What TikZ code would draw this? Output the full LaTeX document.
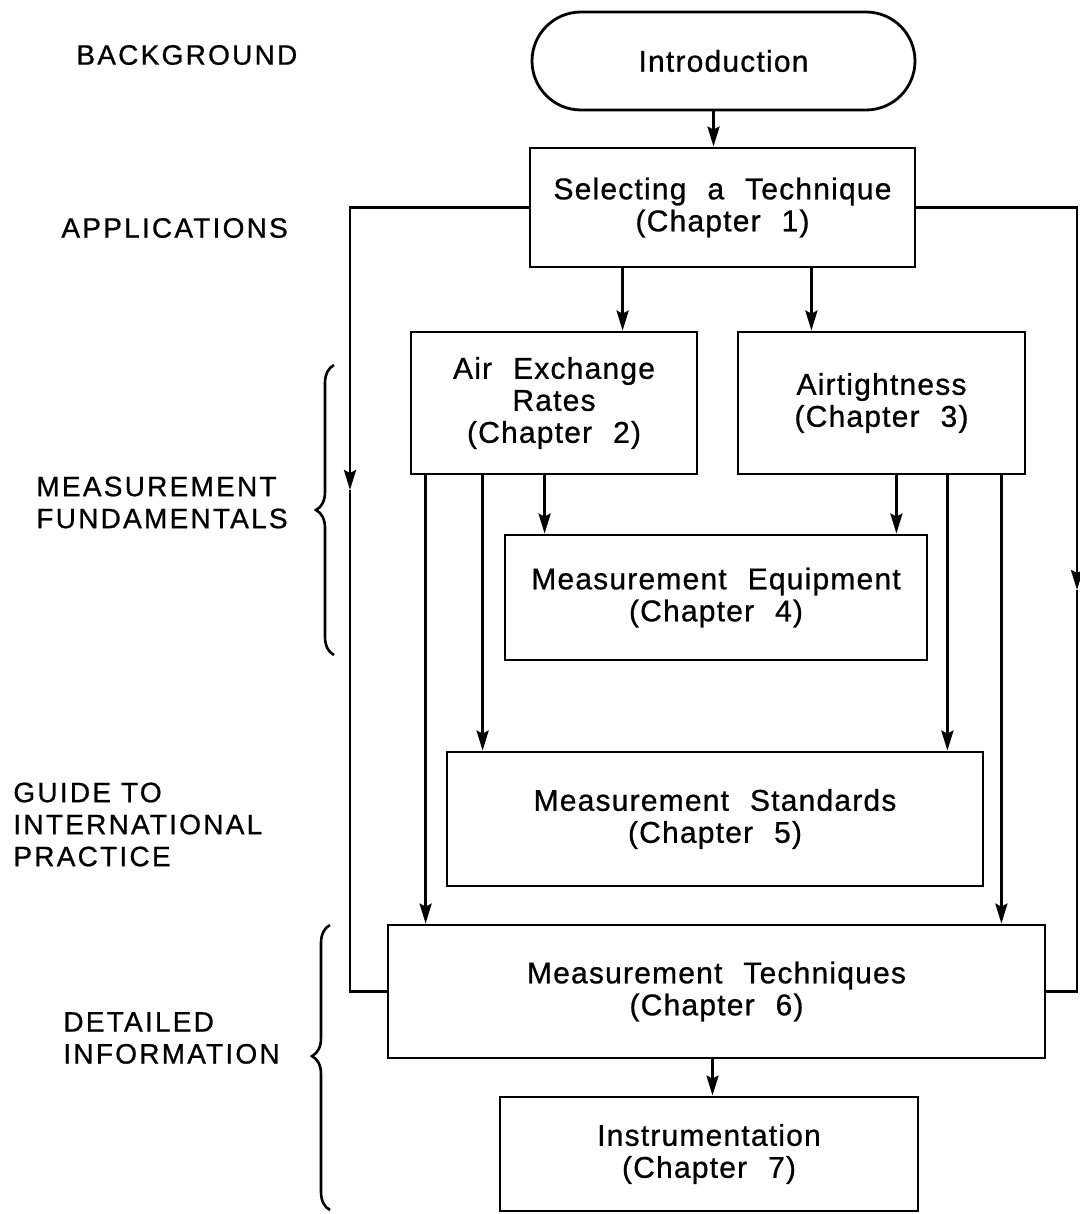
\documentclass[tikz,border=0pt]{standalone}
\usepackage{fontspec}
\setmainfont{Liberation Sans}
\newfontfamily\boxfont[LetterSpace=4,WordSpace=2.2,FakeBold=0.8]{Liberation Sans}
\newfontfamily\lblfont[LetterSpace=8,FakeBold=0.8]{Liberation Sans}
\usetikzlibrary{arrows.meta,decorations.pathreplacing}

\begin{document}
\begin{tikzpicture}[x=0.5pt,y=-0.5pt,line width=1.4pt,
                chap/.style={draw,align=center,inner sep=0pt,font=\boxfont\fontsize{15}{16}\selectfont},
                lbl/.style={align=left,inner sep=0pt,anchor=west,font=\lblfont\fontsize{14}{16}\selectfont},
                arr/.style={-{Stealth[length=10pt,width=6pt,inset=1.5pt]}},
                brc/.style={decorate,line width=1.3pt,decoration={brace,amplitude=9pt}}]
                \useasboundingbox (0,0) rectangle (1080,1214);
                \node[chap,minimum width=191.5pt,minimum height=49pt,rounded corners=24.5pt] (intro) at (723.5,61) {Introduction};
                \node[chap,minimum width=192.5pt,minimum height=59.5pt] (sel) at (722.5,207.5) {Selecting a Technique\\(Chapter 1)};
                \node[chap,minimum width=143pt,minimum height=71pt] (aer) at (554,403) {Air Exchange\\Rates\\(Chapter 2)};
                \node[chap,minimum width=143.5pt,minimum height=71pt] (air) at (881.5,403) {Airtightness\\(Chapter 3)};
                \node[chap,minimum width=211pt,minimum height=62.5pt] (equip) at (716,597.5) {Measurement Equipment\\(Chapter 4)};
                \node[chap,minimum width=268pt,minimum height=67pt] (std) at (715,819) {Measurement Standards\\(Chapter 5)};
                \node[chap,minimum width=328.5pt,minimum height=66.5pt] (tech) at (716.5,991.5) {Measurement Techniques\\(Chapter 6)};
                \node[chap,minimum width=209pt,minimum height=57pt] (instr) at (709,1154) {Instrumentation\\(Chapter 7)};
                \node[lbl] (bg) at (75,55) {BACKGROUND};
                \node[lbl] (app) at (60,228) {APPLICATIONS};
                \node[lbl] (fund) at (35,502.5) {MEASUREMENT\\FUNDAMENTALS};
                \node[lbl] (guide) at (12,824.5) {GUIDE TO\\INTERNATIONAL\\PRACTICE};
                \node[lbl] (det) at (62,1038) {DETAILED\\INFORMATION};
                \coordinate (lc) at (350,490);
                \coordinate (rc) at (1077,590);
                \draw[arr] ([xshift=-5pt]intro.south) -- ([xshift=-5pt]intro.south |- sel.north);
                \draw[arr] ([xshift=47pt]sel.south west) -- ([xshift=47pt]sel.south west |- aer.north);
                \draw[arr] ([xshift=-52.5pt]sel.south east) -- ([xshift=-52.5pt]sel.south east |- air.north);
                \draw[arr] ([xshift=8pt]aer.south west) -- ([xshift=8pt]aer.south west |- tech.north);
                \draw[arr] ([xshift=36.5pt]aer.south west) -- ([xshift=36.5pt]aer.south west |- std.north);
                \draw[arr] ([xshift=67.5pt]aer.south west) -- ([xshift=67.5pt]aer.south west |- equip.north);
                \draw[arr] ([xshift=-65pt]air.south east) -- ([xshift=-65pt]air.south east |- equip.north);
                \draw[arr] ([xshift=-39.5pt]air.south east) -- ([xshift=-39.5pt]air.south east |- std.north);
                \draw[arr] ([xshift=-12.5pt]air.south east) -- ([xshift=-12.5pt]air.south east |- tech.north);
                \draw[arr] ([xshift=-2pt]tech.south) -- ([xshift=-2pt]tech.south |- instr.north);
                \draw[arr] (sel.west) -| (lc);
                \draw (lc) |- (tech.west);
                \draw[arr] (sel.east) -| (rc);
                \draw (rc) |- (tech.east);
                \draw[brc] (334,655) -- (334,365);
                \draw[brc,decoration={aspect=0.54}] (330,1210) -- (330,925);
\end{tikzpicture}
\end{document}
